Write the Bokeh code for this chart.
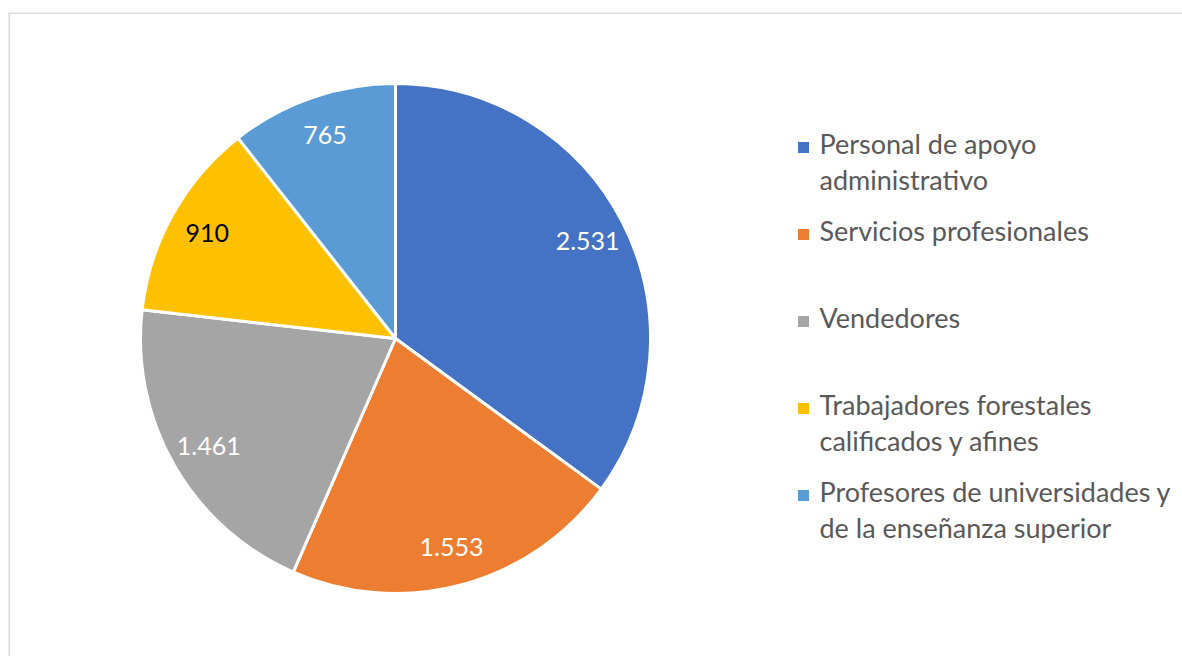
import math
from bokeh.plotting import figure
from bokeh.models import Range1d, Span, ColumnDataSource
from bokeh.core.properties import value
from bokeh.embed import file_html
from bokeh.resources import INLINE

categories = ["Personal de apoyo administrativo", "Servicios profesionales", "Vendedores",
              "Trabajadores forestales calificados y afines",
              "Profesores de universidades y de la enseñanza superior"]
legend_lines = [["Personal de apoyo", "administrativo"], ["Servicios profesionales"], ["Vendedores"],
                ["Trabajadores forestales", "calificados y afines"],
                ["Profesores de universidades y", "de la enseñanza superior"]]
values = [2531, 1553, 1461, 910, 765]
value_labels = ["2.531", "1.553", "1.461", "910", "765"]
colors = ["#4472C4", "#ED7D31", "#A5A5A5", "#FFC000", "#5B9BD5"]
label_colors = ["white", "white", "white", "black", "white"]

W, H, TOP, LEFT = 1182, 656, 12, 8
FW, FH = W - LEFT, H - TOP
p = figure(width=W, height=H, output_backend="svg", toolbar_location=None,
           x_range=Range1d(0, FW), y_range=Range1d(0, FH))
p.min_border_top = TOP
p.min_border_left = LEFT
p.min_border_right = p.min_border_bottom = 0
p.axis.visible = False
p.grid.visible = False
p.outline_line_color = None
p.background_fill_color = "white"
p.border_fill_color = "white"

p.add_layout(Span(location=FH - 0.5, dimension="width", line_color="#d9d9d9", line_width=2))
p.add_layout(Span(location=0.5, dimension="height", line_color="#d9d9d9", line_width=2))

cx, cy, r = 387, FH - 326, 255
total = sum(values)
starts, ends, lx, ly = [], [], [], []
cum = 0.0
for v in values:
    a0 = math.pi / 2 - cum / total * 2 * math.pi
    cum += v
    a1 = math.pi / 2 - cum / total * 2 * math.pi
    starts.append(a0)
    ends.append(a1)
    mid = (a0 + a1) / 2
    lx.append(cx + 0.845 * r * math.cos(mid))
    ly.append(cy + 0.845 * r * math.sin(mid))

src = ColumnDataSource(dict(start=starts, end=ends, color=colors, lx=lx, ly=ly,
                            lab=value_labels, lc=label_colors))
p.wedge(x=cx, y=cy, radius=r, start_angle="start", end_angle="end", direction="clock",
        fill_color="color", line_color="white", line_width=3, source=src)
p.text(x="lx", y="ly", text="lab", text_color="lc", text_font=value("Lato"),
       text_font_size="25px", text_align="center", text_baseline="middle", source=src)

# legend
sq_x, tx, y0, step, lh = 795, 811, FH - 135, 87, 36
mx, my, tx_l, ty_l = [], [], [], []
for i, lines in enumerate(legend_lines):
    yy = y0 - i * step
    mx.append(sq_x)
    my.append(yy)
    for j, t in enumerate(lines):
        tx_l.append(t)
        ty_l.append(yy + 4 - j * lh)
p.scatter(x=mx, y=my, marker="square", size=11, fill_color=colors, line_color=None)
p.text(x=[tx] * len(tx_l), y=ty_l, text=tx_l, text_color="#595959", text_font=value("Lato"),
       text_font_size="27px", text_align="left", text_baseline="middle")

open("out.html", "w").write(file_html(p, INLINE))
